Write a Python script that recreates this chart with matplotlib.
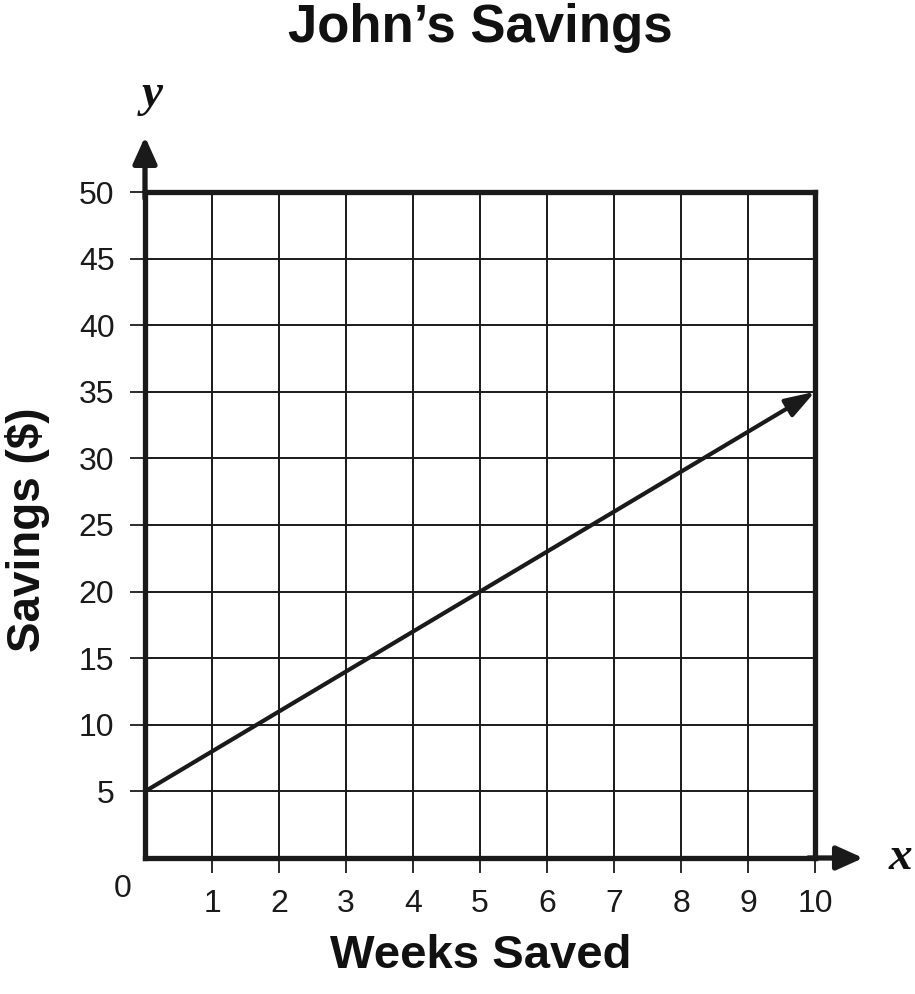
import matplotlib
matplotlib.use("Agg")
import matplotlib.pyplot as plt

weeks = [0, 10]
savings = [5, 35]
x_ticks = [1, 2, 3, 4, 5, 6, 7, 8, 9, 10]
y_ticks = [5, 10, 15, 20, 25, 30, 35, 40, 45, 50]

plt.rcParams['font.family'] = ['Liberation Sans', 'DejaVu Sans']

W, H = 915, 994
fig = plt.figure(figsize=(W/100, H/100), dpi=100)
L, R, T, B = 145, 815, 192, 858
ax = fig.add_axes([L/W, (H-B)/H, (R-L)/W, (B-T)/H])
ax.set_xlim(0, 10)
ax.set_ylim(0, 50)

ax.set_xticks(x_ticks)
ax.set_yticks(y_ticks)
ax.tick_params(axis='both', length=11, width=1.3, color='#1a1a1a', labelsize=23,
               pad=11, labelcolor='#1a1a1a')
ax.grid(True, color='#1a1a1a', linewidth=1.4)

for s in ['left', 'bottom', 'top', 'right']:
    ax.spines[s].set_linewidth(3.8)
    ax.spines[s].set_color('#1a1a1a')

# data line with arrow at the end
ax.annotate('', xy=(weeks[1], savings[1]), xytext=(weeks[0], savings[0]),
            arrowprops=dict(arrowstyle='-|>,head_length=0.9,head_width=0.3',
                            color='#1a1a1a', lw=3.0, mutation_scale=20,
                            shrinkA=0, shrinkB=0), zorder=5)

# axis arrows
ax.annotate('', xy=(0, 1.083), xytext=(0, 0.99), xycoords='axes fraction',
            textcoords='axes fraction',
            arrowprops=dict(arrowstyle='-|>,head_length=0.8,head_width=0.36',
                            color='#1a1a1a', lw=3.8, mutation_scale=20,
                            shrinkA=0, shrinkB=0), annotation_clip=False)
ax.annotate('', xy=(1.072, 0), xytext=(0.99, 0), xycoords='axes fraction',
            textcoords='axes fraction',
            arrowprops=dict(arrowstyle='-|>,head_length=0.8,head_width=0.36',
                            color='#1a1a1a', lw=3.8, mutation_scale=20,
                            shrinkA=0, shrinkB=0), annotation_clip=False)

# origin label
fig.text(123/W, 1 - 889/H, '0', ha='center', va='center',
         fontsize=23, color='#1a1a1a')

fig.text(480/W, 1 - 28/H, 'John\u2019s Savings', ha='center', va='center',
         fontsize=38, fontweight='bold', color='#111111')
fig.text(481/W, 1 - 956/H, 'Weeks Saved', ha='center', va='center',
         fontsize=34, fontweight='bold', color='#111111')
fig.text(28/W, 1 - 530/H, 'Savings ($)', ha='center', va='center', rotation=90,
         fontsize=33, fontweight='bold', color='#111111')
fig.text(152/W, 1 - 95/H, 'y', ha='center', va='center', fontsize=34,
         fontweight='bold', style='italic', family='Liberation Serif', color='#111111')
fig.text(900/W, 1 - 858/H, 'x', ha='center', va='center', fontsize=34,
         fontweight='bold', style='italic', family='Liberation Serif', color='#111111')

fig.savefig('out.png', dpi=100)
